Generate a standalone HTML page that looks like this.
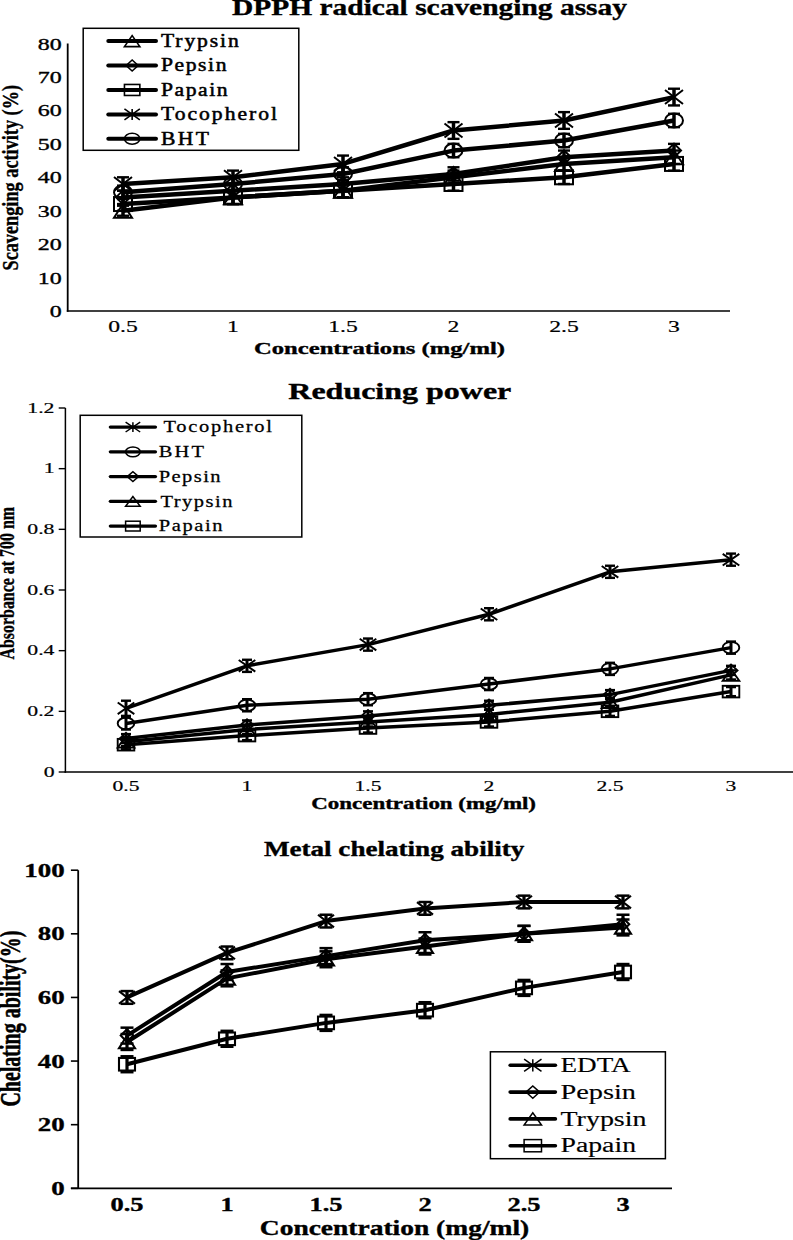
<!DOCTYPE html><html><head><meta charset="utf-8"><style>html,body{margin:0;padding:0;background:#fff;}svg{display:block;}text{fill:#000;stroke:none;font-family:"Liberation Serif",serif;}</style></head><body>
<svg width="793" height="1240" viewBox="0 0 793 1240" stroke="#000">
<rect x="0" y="0" width="793" height="1240" fill="#fff" stroke="none"/>
<g id="c1">
<text x="232" y="14.6" font-size="23" font-weight="bold" textLength="395" lengthAdjust="spacingAndGlyphs"  style="stroke:#000;stroke-width:0.35px">DPPH radical scavenging assay</text>
<line x1="67.7" y1="43.6" x2="67.7" y2="311.8" stroke-width="1.8"/>
<line x1="66.8" y1="311" x2="730" y2="311" stroke-width="1.7"/>
<text transform="translate(61.7,317.0) scale(1.41,1)" font-size="17" font-weight="normal" text-anchor="end"  style="stroke:#000;stroke-width:0.35px">0</text>
<text transform="translate(61.7,283.575) scale(1.41,1)" font-size="17" font-weight="normal" text-anchor="end"  style="stroke:#000;stroke-width:0.35px">10</text>
<text transform="translate(61.7,250.15) scale(1.41,1)" font-size="17" font-weight="normal" text-anchor="end"  style="stroke:#000;stroke-width:0.35px">20</text>
<text transform="translate(61.7,216.72500000000002) scale(1.41,1)" font-size="17" font-weight="normal" text-anchor="end"  style="stroke:#000;stroke-width:0.35px">30</text>
<text transform="translate(61.7,183.3) scale(1.41,1)" font-size="17" font-weight="normal" text-anchor="end"  style="stroke:#000;stroke-width:0.35px">40</text>
<text transform="translate(61.7,149.875) scale(1.41,1)" font-size="17" font-weight="normal" text-anchor="end"  style="stroke:#000;stroke-width:0.35px">50</text>
<text transform="translate(61.7,116.45000000000002) scale(1.41,1)" font-size="17" font-weight="normal" text-anchor="end"  style="stroke:#000;stroke-width:0.35px">60</text>
<text transform="translate(61.7,83.025) scale(1.41,1)" font-size="17" font-weight="normal" text-anchor="end"  style="stroke:#000;stroke-width:0.35px">70</text>
<text transform="translate(61.7,49.60000000000002) scale(1.41,1)" font-size="17" font-weight="normal" text-anchor="end"  style="stroke:#000;stroke-width:0.35px">80</text>
<text transform="translate(123,331.6) scale(1.39,1)" font-size="17" font-weight="normal" text-anchor="middle"  style="stroke:#000;stroke-width:0.2px">0.5</text>
<text transform="translate(233,331.6) scale(1.39,1)" font-size="17" font-weight="normal" text-anchor="middle"  style="stroke:#000;stroke-width:0.2px">1</text>
<text transform="translate(343,331.6) scale(1.39,1)" font-size="17" font-weight="normal" text-anchor="middle"  style="stroke:#000;stroke-width:0.2px">1.5</text>
<text transform="translate(453.5,331.6) scale(1.39,1)" font-size="17" font-weight="normal" text-anchor="middle"  style="stroke:#000;stroke-width:0.2px">2</text>
<text transform="translate(564,331.6) scale(1.39,1)" font-size="17" font-weight="normal" text-anchor="middle"  style="stroke:#000;stroke-width:0.2px">2.5</text>
<text transform="translate(674,331.6) scale(1.39,1)" font-size="17" font-weight="normal" text-anchor="middle"  style="stroke:#000;stroke-width:0.2px">3</text>
<text x="254" y="354" font-size="17" font-weight="bold" textLength="251" lengthAdjust="spacingAndGlyphs"  style="stroke:#000;stroke-width:0.35px">Concentrations (mg/ml)</text>
<text transform="translate(18,270.5) rotate(-90)" font-size="23" font-weight="bold" text-anchor="start" textLength="185.5" lengthAdjust="spacingAndGlyphs"  style="stroke:#000;stroke-width:0.35px">Scavenging activity (%)</text>
<rect x="83.2" y="28.3" width="215.60000000000002" height="122.00000000000001" fill="#fff" stroke-width="1.5"/>
<line x1="108.3" y1="41.1" x2="156" y2="41.1" stroke-width="4" stroke-linecap="round"/>
<polygon points="124.45,46.6 139.85,46.6 132.15,35.6" fill="none" stroke-width="1.6"/>
<text transform="translate(161,47.04) scale(1.2,1)" font-size="18" font-weight="normal" textLength="64.75" lengthAdjust="spacing"  style="stroke:#000;stroke-width:0.5px">Trypsin</text>
<line x1="108.3" y1="65.53" x2="156" y2="65.53" stroke-width="4" stroke-linecap="round"/>
<polygon points="126.144,65.53 132.15,60.03 138.156,65.53 132.15,71.03" fill="none" stroke-width="1.6"/>
<text transform="translate(161,71.47) scale(1.2,1)" font-size="18" font-weight="normal" textLength="54.58" lengthAdjust="spacing"  style="stroke:#000;stroke-width:0.5px">Pepsin</text>
<line x1="108.3" y1="89.96000000000001" x2="156" y2="89.96000000000001" stroke-width="4" stroke-linecap="round"/>
<rect x="124.45" y="84.46000000000001" width="15.4" height="11.0" fill="none" stroke-width="1.6"/>
<text transform="translate(161,95.9) scale(1.2,1)" font-size="18" font-weight="normal" textLength="55.5" lengthAdjust="spacing"  style="stroke:#000;stroke-width:0.5px">Papain</text>
<line x1="108.3" y1="114.38999999999999" x2="156" y2="114.38999999999999" stroke-width="4" stroke-linecap="round"/>
<path d="M124.45,108.88999999999999L139.85,119.88999999999999M124.45,119.88999999999999L139.85,108.88999999999999M132.15,108.88999999999999L132.15,119.88999999999999" fill="none" stroke-width="1.6"/>
<text transform="translate(161,120.32999999999998) scale(1.2,1)" font-size="18" font-weight="normal" textLength="96.67" lengthAdjust="spacing"  style="stroke:#000;stroke-width:0.5px">Tocopherol</text>
<line x1="108.3" y1="138.82" x2="156" y2="138.82" stroke-width="4" stroke-linecap="round"/>
<ellipse cx="132.15" cy="138.82" rx="7.7" ry="5.5" fill="none" stroke-width="1.6"/>
<text transform="translate(161,144.76) scale(1.2,1)" font-size="18" font-weight="normal" textLength="40.0" lengthAdjust="spacing"  style="stroke:#000;stroke-width:0.5px">BHT</text>
<polyline points="123,210.7 233,197.4 343,190.7 453.5,177.3 564,163.9 674,157.2" fill="none" stroke-width="4.5" stroke-linejoin="round"/>
<polygon points="114,217.72500000000002 132,217.72500000000002 123,203.72500000000002" fill="none" stroke-width="2"/>
<polygon points="224,204.35500000000002 242,204.35500000000002 233,190.35500000000002" fill="none" stroke-width="2"/>
<polygon points="334,197.67000000000002 352,197.67000000000002 343,183.67000000000002" fill="none" stroke-width="2"/>
<polygon points="444.5,184.3 462.5,184.3 453.5,170.3" fill="none" stroke-width="2"/>
<polygon points="555,170.93 573,170.93 564,156.93" fill="none" stroke-width="2"/>
<polygon points="665,164.245 683,164.245 674,150.245" fill="none" stroke-width="2"/>
<line x1="123" y1="205.71125" x2="123" y2="215.73875" stroke-width="3.5"/>
<line x1="117" y1="205.71125" x2="129" y2="205.71125" stroke-width="2.4"/>
<line x1="117" y1="215.73875" x2="129" y2="215.73875" stroke-width="2.4"/>
<line x1="233" y1="190.67000000000002" x2="233" y2="204.04000000000002" stroke-width="3.5"/>
<line x1="227" y1="190.67000000000002" x2="239" y2="190.67000000000002" stroke-width="2.4"/>
<line x1="227" y1="204.04000000000002" x2="239" y2="204.04000000000002" stroke-width="2.4"/>
<line x1="343" y1="183.985" x2="343" y2="197.35500000000002" stroke-width="3.5"/>
<line x1="337" y1="183.985" x2="349" y2="183.985" stroke-width="2.4"/>
<line x1="337" y1="197.35500000000002" x2="349" y2="197.35500000000002" stroke-width="2.4"/>
<line x1="453.5" y1="170.615" x2="453.5" y2="183.985" stroke-width="3.5"/>
<line x1="447.5" y1="170.615" x2="459.5" y2="170.615" stroke-width="2.4"/>
<line x1="447.5" y1="183.985" x2="459.5" y2="183.985" stroke-width="2.4"/>
<line x1="564" y1="157.245" x2="564" y2="170.615" stroke-width="3.5"/>
<line x1="558" y1="157.245" x2="570" y2="157.245" stroke-width="2.4"/>
<line x1="558" y1="170.615" x2="570" y2="170.615" stroke-width="2.4"/>
<line x1="674" y1="150.56" x2="674" y2="163.93" stroke-width="3.5"/>
<line x1="668" y1="150.56" x2="680" y2="150.56" stroke-width="2.4"/>
<line x1="668" y1="163.93" x2="680" y2="163.93" stroke-width="2.4"/>
<polyline points="123,197.4 233,190.7 343,184.0 453.5,174.0 564,157.2 674,150.6" fill="none" stroke-width="4.5" stroke-linejoin="round"/>
<polygon points="115.98,197.35500000000002 123,190.35500000000002 130.02,197.35500000000002 123,204.35500000000002" fill="none" stroke-width="2"/>
<polygon points="225.98,190.67000000000002 233,183.67000000000002 240.02,190.67000000000002 233,197.67000000000002" fill="none" stroke-width="2"/>
<polygon points="335.98,183.985 343,176.985 350.02,183.985 343,190.985" fill="none" stroke-width="2"/>
<polygon points="446.48,173.9575 453.5,166.9575 460.52,173.9575 453.5,180.9575" fill="none" stroke-width="2"/>
<polygon points="556.98,157.245 564,150.245 571.02,157.245 564,164.245" fill="none" stroke-width="2"/>
<polygon points="666.98,150.56 674,143.56 681.02,150.56 674,157.56" fill="none" stroke-width="2"/>
<line x1="123" y1="190.67000000000002" x2="123" y2="204.04000000000002" stroke-width="3.5"/>
<line x1="117" y1="190.67000000000002" x2="129" y2="190.67000000000002" stroke-width="2.4"/>
<line x1="117" y1="204.04000000000002" x2="129" y2="204.04000000000002" stroke-width="2.4"/>
<line x1="233" y1="183.985" x2="233" y2="197.35500000000002" stroke-width="3.5"/>
<line x1="227" y1="183.985" x2="239" y2="183.985" stroke-width="2.4"/>
<line x1="227" y1="197.35500000000002" x2="239" y2="197.35500000000002" stroke-width="2.4"/>
<line x1="343" y1="177.3" x2="343" y2="190.67000000000002" stroke-width="3.5"/>
<line x1="337" y1="177.3" x2="349" y2="177.3" stroke-width="2.4"/>
<line x1="337" y1="190.67000000000002" x2="349" y2="190.67000000000002" stroke-width="2.4"/>
<line x1="453.5" y1="167.2725" x2="453.5" y2="180.6425" stroke-width="3.5"/>
<line x1="447.5" y1="167.2725" x2="459.5" y2="167.2725" stroke-width="2.4"/>
<line x1="447.5" y1="180.6425" x2="459.5" y2="180.6425" stroke-width="2.4"/>
<line x1="564" y1="150.56" x2="564" y2="163.93" stroke-width="3.5"/>
<line x1="558" y1="150.56" x2="570" y2="150.56" stroke-width="2.4"/>
<line x1="558" y1="163.93" x2="570" y2="163.93" stroke-width="2.4"/>
<line x1="674" y1="143.875" x2="674" y2="157.245" stroke-width="3.5"/>
<line x1="668" y1="143.875" x2="680" y2="143.875" stroke-width="2.4"/>
<line x1="668" y1="157.245" x2="680" y2="157.245" stroke-width="2.4"/>
<polyline points="123,204.0 233,197.4 343,190.7 453.5,184.0 564,177.3 674,163.9" fill="none" stroke-width="4.5" stroke-linejoin="round"/>
<rect x="114" y="197.04000000000002" width="18" height="14" fill="none" stroke-width="2"/>
<rect x="224" y="190.35500000000002" width="18" height="14" fill="none" stroke-width="2"/>
<rect x="334" y="183.67000000000002" width="18" height="14" fill="none" stroke-width="2"/>
<rect x="444.5" y="176.985" width="18" height="14" fill="none" stroke-width="2"/>
<rect x="555" y="170.3" width="18" height="14" fill="none" stroke-width="2"/>
<rect x="665" y="156.93" width="18" height="14" fill="none" stroke-width="2"/>
<line x1="123" y1="197.35500000000002" x2="123" y2="210.72500000000002" stroke-width="3.5"/>
<line x1="117" y1="197.35500000000002" x2="129" y2="197.35500000000002" stroke-width="2.4"/>
<line x1="117" y1="210.72500000000002" x2="129" y2="210.72500000000002" stroke-width="2.4"/>
<line x1="233" y1="190.67000000000002" x2="233" y2="204.04000000000002" stroke-width="3.5"/>
<line x1="227" y1="190.67000000000002" x2="239" y2="190.67000000000002" stroke-width="2.4"/>
<line x1="227" y1="204.04000000000002" x2="239" y2="204.04000000000002" stroke-width="2.4"/>
<line x1="343" y1="183.985" x2="343" y2="197.35500000000002" stroke-width="3.5"/>
<line x1="337" y1="183.985" x2="349" y2="183.985" stroke-width="2.4"/>
<line x1="337" y1="197.35500000000002" x2="349" y2="197.35500000000002" stroke-width="2.4"/>
<line x1="453.5" y1="177.3" x2="453.5" y2="190.67000000000002" stroke-width="3.5"/>
<line x1="447.5" y1="177.3" x2="459.5" y2="177.3" stroke-width="2.4"/>
<line x1="447.5" y1="190.67000000000002" x2="459.5" y2="190.67000000000002" stroke-width="2.4"/>
<line x1="564" y1="170.615" x2="564" y2="183.985" stroke-width="3.5"/>
<line x1="558" y1="170.615" x2="570" y2="170.615" stroke-width="2.4"/>
<line x1="558" y1="183.985" x2="570" y2="183.985" stroke-width="2.4"/>
<line x1="674" y1="157.245" x2="674" y2="170.615" stroke-width="3.5"/>
<line x1="668" y1="157.245" x2="680" y2="157.245" stroke-width="2.4"/>
<line x1="668" y1="170.615" x2="680" y2="170.615" stroke-width="2.4"/>
<polyline points="123,184.0 233,177.3 343,163.9 453.5,130.5 564,120.5 674,97.1" fill="none" stroke-width="4.5" stroke-linejoin="round"/>
<path d="M114,176.985L132,190.985M114,190.985L132,176.985M123,176.985L123,190.985" fill="none" stroke-width="2"/>
<path d="M224,170.3L242,184.3M224,184.3L242,170.3M233,170.3L233,184.3" fill="none" stroke-width="2"/>
<path d="M334,156.93L352,170.93M334,170.93L352,156.93M343,156.93L343,170.93" fill="none" stroke-width="2"/>
<path d="M444.5,123.50500000000002L462.5,137.50500000000002M444.5,137.50500000000002L462.5,123.50500000000002M453.5,123.50500000000002L453.5,137.50500000000002" fill="none" stroke-width="2"/>
<path d="M555,113.47750000000002L573,127.47750000000002M555,127.47750000000002L573,113.47750000000002M564,113.47750000000002L564,127.47750000000002" fill="none" stroke-width="2"/>
<path d="M665,90.08000000000001L683,104.08000000000001M665,104.08000000000001L683,90.08000000000001M674,90.08000000000001L674,104.08000000000001" fill="none" stroke-width="2"/>
<line x1="123" y1="177.3" x2="123" y2="190.67000000000002" stroke-width="3.5"/>
<line x1="117" y1="177.3" x2="129" y2="177.3" stroke-width="2.4"/>
<line x1="117" y1="190.67000000000002" x2="129" y2="190.67000000000002" stroke-width="2.4"/>
<line x1="233" y1="170.615" x2="233" y2="183.985" stroke-width="3.5"/>
<line x1="227" y1="170.615" x2="239" y2="170.615" stroke-width="2.4"/>
<line x1="227" y1="183.985" x2="239" y2="183.985" stroke-width="2.4"/>
<line x1="343" y1="155.57375000000002" x2="343" y2="172.28625" stroke-width="3.5"/>
<line x1="337" y1="155.57375000000002" x2="349" y2="155.57375000000002" stroke-width="2.4"/>
<line x1="337" y1="172.28625" x2="349" y2="172.28625" stroke-width="2.4"/>
<line x1="453.5" y1="122.14875" x2="453.5" y2="138.86125" stroke-width="3.5"/>
<line x1="447.5" y1="122.14875" x2="459.5" y2="122.14875" stroke-width="2.4"/>
<line x1="447.5" y1="138.86125" x2="459.5" y2="138.86125" stroke-width="2.4"/>
<line x1="564" y1="112.12125" x2="564" y2="128.83375" stroke-width="3.5"/>
<line x1="558" y1="112.12125" x2="570" y2="112.12125" stroke-width="2.4"/>
<line x1="558" y1="128.83375" x2="570" y2="128.83375" stroke-width="2.4"/>
<line x1="674" y1="88.72375000000002" x2="674" y2="105.43625" stroke-width="3.5"/>
<line x1="668" y1="88.72375000000002" x2="680" y2="88.72375000000002" stroke-width="2.4"/>
<line x1="668" y1="105.43625" x2="680" y2="105.43625" stroke-width="2.4"/>
<polyline points="123,192.3 233,184.0 343,174.0 453.5,150.6 564,140.5 674,120.5" fill="none" stroke-width="4.5" stroke-linejoin="round"/>
<ellipse cx="123" cy="192.34125" rx="9" ry="7" fill="none" stroke-width="2"/>
<ellipse cx="233" cy="183.985" rx="9" ry="7" fill="none" stroke-width="2"/>
<ellipse cx="343" cy="173.9575" rx="9" ry="7" fill="none" stroke-width="2"/>
<ellipse cx="453.5" cy="150.56" rx="9" ry="7" fill="none" stroke-width="2"/>
<ellipse cx="564" cy="140.5325" rx="9" ry="7" fill="none" stroke-width="2"/>
<ellipse cx="674" cy="120.47750000000002" rx="9" ry="7" fill="none" stroke-width="2"/>
<line x1="123" y1="185.65625" x2="123" y2="199.02625" stroke-width="3.5"/>
<line x1="117" y1="185.65625" x2="129" y2="185.65625" stroke-width="2.4"/>
<line x1="117" y1="199.02625" x2="129" y2="199.02625" stroke-width="2.4"/>
<line x1="233" y1="177.3" x2="233" y2="190.67000000000002" stroke-width="3.5"/>
<line x1="227" y1="177.3" x2="239" y2="177.3" stroke-width="2.4"/>
<line x1="227" y1="190.67000000000002" x2="239" y2="190.67000000000002" stroke-width="2.4"/>
<line x1="343" y1="167.2725" x2="343" y2="180.6425" stroke-width="3.5"/>
<line x1="337" y1="167.2725" x2="349" y2="167.2725" stroke-width="2.4"/>
<line x1="337" y1="180.6425" x2="349" y2="180.6425" stroke-width="2.4"/>
<line x1="453.5" y1="143.875" x2="453.5" y2="157.245" stroke-width="3.5"/>
<line x1="447.5" y1="143.875" x2="459.5" y2="143.875" stroke-width="2.4"/>
<line x1="447.5" y1="157.245" x2="459.5" y2="157.245" stroke-width="2.4"/>
<line x1="564" y1="133.8475" x2="564" y2="147.2175" stroke-width="3.5"/>
<line x1="558" y1="133.8475" x2="570" y2="133.8475" stroke-width="2.4"/>
<line x1="558" y1="147.2175" x2="570" y2="147.2175" stroke-width="2.4"/>
<line x1="674" y1="113.79250000000002" x2="674" y2="127.16250000000002" stroke-width="3.5"/>
<line x1="668" y1="113.79250000000002" x2="680" y2="113.79250000000002" stroke-width="2.4"/>
<line x1="668" y1="127.16250000000002" x2="680" y2="127.16250000000002" stroke-width="2.4"/>
</g>
<g id="c2">
<text x="288.3" y="398.5" font-size="22.5" font-weight="bold" textLength="223" lengthAdjust="spacingAndGlyphs"  style="stroke:#000;stroke-width:0.35px">Reducing power</text>
<line x1="65.4" y1="408" x2="65.4" y2="772.7" stroke-width="1.5"/>
<line x1="64.6" y1="772" x2="793" y2="772" stroke-width="1.6"/>
<line x1="58.7" y1="772.0" x2="65.4" y2="772.0" stroke-width="1.4"/>
<text transform="translate(54.5,776.8) scale(1.5,1)" font-size="14.5" font-weight="normal" text-anchor="end"  style="stroke:#000;stroke-width:0.2px">0</text>
<line x1="58.7" y1="711.3333333333334" x2="65.4" y2="711.3333333333334" stroke-width="1.4"/>
<text transform="translate(54.5,716.1333333333333) scale(1.5,1)" font-size="14.5" font-weight="normal" text-anchor="end"  style="stroke:#000;stroke-width:0.2px">0.2</text>
<line x1="58.7" y1="650.6666666666666" x2="65.4" y2="650.6666666666666" stroke-width="1.4"/>
<text transform="translate(54.5,655.4666666666666) scale(1.5,1)" font-size="14.5" font-weight="normal" text-anchor="end"  style="stroke:#000;stroke-width:0.2px">0.4</text>
<line x1="58.7" y1="590.0" x2="65.4" y2="590.0" stroke-width="1.4"/>
<text transform="translate(54.5,594.8) scale(1.5,1)" font-size="14.5" font-weight="normal" text-anchor="end"  style="stroke:#000;stroke-width:0.2px">0.6</text>
<line x1="58.7" y1="529.3333333333333" x2="65.4" y2="529.3333333333333" stroke-width="1.4"/>
<text transform="translate(54.5,534.1333333333332) scale(1.5,1)" font-size="14.5" font-weight="normal" text-anchor="end"  style="stroke:#000;stroke-width:0.2px">0.8</text>
<line x1="58.7" y1="468.66666666666663" x2="65.4" y2="468.66666666666663" stroke-width="1.4"/>
<text transform="translate(54.5,473.46666666666664) scale(1.5,1)" font-size="14.5" font-weight="normal" text-anchor="end"  style="stroke:#000;stroke-width:0.2px">1</text>
<line x1="58.7" y1="407.9999999999999" x2="65.4" y2="407.9999999999999" stroke-width="1.4"/>
<text transform="translate(54.5,412.7999999999999) scale(1.5,1)" font-size="14.5" font-weight="normal" text-anchor="end"  style="stroke:#000;stroke-width:0.2px">1.2</text>
<text transform="translate(126,790.8) scale(1.46,1)" font-size="14.8" font-weight="normal" text-anchor="middle"  style="stroke:#000;stroke-width:0.2px">0.5</text>
<text transform="translate(247,790.8) scale(1.46,1)" font-size="14.8" font-weight="normal" text-anchor="middle"  style="stroke:#000;stroke-width:0.2px">1</text>
<text transform="translate(368,790.8) scale(1.46,1)" font-size="14.8" font-weight="normal" text-anchor="middle"  style="stroke:#000;stroke-width:0.2px">1.5</text>
<text transform="translate(489,790.8) scale(1.46,1)" font-size="14.8" font-weight="normal" text-anchor="middle"  style="stroke:#000;stroke-width:0.2px">2</text>
<text transform="translate(610,790.8) scale(1.46,1)" font-size="14.8" font-weight="normal" text-anchor="middle"  style="stroke:#000;stroke-width:0.2px">2.5</text>
<text transform="translate(731,790.8) scale(1.46,1)" font-size="14.8" font-weight="normal" text-anchor="middle"  style="stroke:#000;stroke-width:0.2px">3</text>
<text x="311.3" y="808.7" font-size="16" font-weight="bold" textLength="224.7" lengthAdjust="spacingAndGlyphs"  style="stroke:#000;stroke-width:0.35px">Concentration (mg/ml)</text>
<text transform="translate(14.4,659.5) rotate(-90)" font-size="20" font-weight="bold" text-anchor="start" textLength="152.5" lengthAdjust="spacingAndGlyphs"  style="stroke:#000;stroke-width:0.35px">Absorbance at 700 nm</text>
<rect x="80.2" y="415.3" width="221.60000000000002" height="121.69999999999999" fill="#fff" stroke-width="1.5"/>
<line x1="110.4" y1="427.1" x2="155.4" y2="427.1" stroke-width="3.4" stroke-linecap="round"/>
<path d="M125.60000000000001,422.20000000000005L140.20000000000002,432.0M125.60000000000001,432.0L140.20000000000002,422.20000000000005M132.9,422.20000000000005L132.9,432.0" fill="none" stroke-width="1.5"/>
<text transform="translate(163.5,432.38) scale(1.28,1)" font-size="16" font-weight="normal" textLength="84.77" lengthAdjust="spacing"  style="stroke:#000;stroke-width:0.25px">Tocopherol</text>
<line x1="110.4" y1="451.85" x2="155.4" y2="451.85" stroke-width="3.4" stroke-linecap="round"/>
<ellipse cx="132.9" cy="451.85" rx="7.3" ry="4.9" fill="none" stroke-width="1.5"/>
<text transform="translate(158.8,457.13) scale(1.28,1)" font-size="16" font-weight="normal" textLength="35.31" lengthAdjust="spacing"  style="stroke:#000;stroke-width:0.25px">BHT</text>
<line x1="110.4" y1="476.6" x2="155.4" y2="476.6" stroke-width="3.4" stroke-linecap="round"/>
<polygon points="127.206,476.6 132.9,471.70000000000005 138.594,476.6 132.9,481.5" fill="none" stroke-width="1.5"/>
<text transform="translate(158.8,481.88) scale(1.28,1)" font-size="16" font-weight="normal" textLength="48.2" lengthAdjust="spacing"  style="stroke:#000;stroke-width:0.25px">Pepsin</text>
<line x1="110.4" y1="501.35" x2="155.4" y2="501.35" stroke-width="3.4" stroke-linecap="round"/>
<polygon points="125.60000000000001,506.25 140.20000000000002,506.25 132.9,496.45000000000005" fill="none" stroke-width="1.5"/>
<text transform="translate(160.4,506.63) scale(1.28,1)" font-size="16" font-weight="normal" textLength="56.25" lengthAdjust="spacing"  style="stroke:#000;stroke-width:0.25px">Trypsin</text>
<line x1="110.4" y1="526.1" x2="155.4" y2="526.1" stroke-width="3.4" stroke-linecap="round"/>
<rect x="125.60000000000001" y="521.2" width="14.6" height="9.8" fill="none" stroke-width="1.5"/>
<text transform="translate(158.8,531.38) scale(1.28,1)" font-size="16" font-weight="normal" textLength="49.69" lengthAdjust="spacing"  style="stroke:#000;stroke-width:0.25px">Papain</text>
<polyline points="126,738.6 247,725.0 368,715.9 489,705.3 610,694.6 731,670.4" fill="none" stroke-width="3.5" stroke-linejoin="round"/>
<polygon points="119.526,738.6333333333333 126,732.8333333333334 132.474,738.6333333333333 126,744.4333333333333" fill="none" stroke-width="1.9"/>
<polygon points="240.526,724.9833333333333 247,719.1833333333334 253.474,724.9833333333333 247,730.7833333333333" fill="none" stroke-width="1.9"/>
<polygon points="361.526,715.8833333333333 368,710.0833333333334 374.474,715.8833333333333 368,721.6833333333333" fill="none" stroke-width="1.9"/>
<polygon points="482.526,705.2666666666667 489,699.4666666666667 495.474,705.2666666666667 489,711.0666666666666" fill="none" stroke-width="1.9"/>
<polygon points="603.526,694.65 610,688.85 616.474,694.65 610,700.4499999999999" fill="none" stroke-width="1.9"/>
<polygon points="724.526,670.3833333333333 731,664.5833333333334 737.474,670.3833333333333 731,676.1833333333333" fill="none" stroke-width="1.9"/>
<line x1="126" y1="734.0833333333334" x2="126" y2="743.1833333333333" stroke-width="3"/>
<line x1="121" y1="734.0833333333334" x2="131" y2="734.0833333333334" stroke-width="2.4"/>
<line x1="121" y1="743.1833333333333" x2="131" y2="743.1833333333333" stroke-width="2.4"/>
<line x1="247" y1="720.4333333333333" x2="247" y2="729.5333333333333" stroke-width="3"/>
<line x1="242" y1="720.4333333333333" x2="252" y2="720.4333333333333" stroke-width="2.4"/>
<line x1="242" y1="729.5333333333333" x2="252" y2="729.5333333333333" stroke-width="2.4"/>
<line x1="368" y1="711.3333333333334" x2="368" y2="720.4333333333333" stroke-width="3"/>
<line x1="363" y1="711.3333333333334" x2="373" y2="711.3333333333334" stroke-width="2.4"/>
<line x1="363" y1="720.4333333333333" x2="373" y2="720.4333333333333" stroke-width="2.4"/>
<line x1="489" y1="700.7166666666667" x2="489" y2="709.8166666666666" stroke-width="3"/>
<line x1="484" y1="700.7166666666667" x2="494" y2="700.7166666666667" stroke-width="2.4"/>
<line x1="484" y1="709.8166666666666" x2="494" y2="709.8166666666666" stroke-width="2.4"/>
<line x1="610" y1="690.1" x2="610" y2="699.2" stroke-width="3"/>
<line x1="605" y1="690.1" x2="615" y2="690.1" stroke-width="2.4"/>
<line x1="605" y1="699.2" x2="615" y2="699.2" stroke-width="2.4"/>
<line x1="731" y1="665.8333333333333" x2="731" y2="674.9333333333333" stroke-width="3"/>
<line x1="726" y1="665.8333333333333" x2="736" y2="665.8333333333333" stroke-width="2.4"/>
<line x1="726" y1="674.9333333333333" x2="736" y2="674.9333333333333" stroke-width="2.4"/>
<polyline points="126,741.7 247,729.5 368,722.0 489,714.4 610,702.2 731,674.9" fill="none" stroke-width="3.5" stroke-linejoin="round"/>
<polygon points="117.7,747.4666666666666 134.3,747.4666666666666 126,735.8666666666667" fill="none" stroke-width="1.9"/>
<polygon points="238.7,735.3333333333333 255.3,735.3333333333333 247,723.7333333333333" fill="none" stroke-width="1.9"/>
<polygon points="359.7,727.75 376.3,727.75 368,716.1500000000001" fill="none" stroke-width="1.9"/>
<polygon points="480.7,720.1666666666666 497.3,720.1666666666666 489,708.5666666666667" fill="none" stroke-width="1.9"/>
<polygon points="601.7,708.0333333333333 618.3,708.0333333333333 610,696.4333333333334" fill="none" stroke-width="1.9"/>
<polygon points="722.7,680.7333333333332 739.3,680.7333333333332 731,669.1333333333333" fill="none" stroke-width="1.9"/>
<line x1="126" y1="737.1166666666667" x2="126" y2="746.2166666666667" stroke-width="3"/>
<line x1="121" y1="737.1166666666667" x2="131" y2="737.1166666666667" stroke-width="2.4"/>
<line x1="121" y1="746.2166666666667" x2="131" y2="746.2166666666667" stroke-width="2.4"/>
<line x1="247" y1="724.9833333333333" x2="247" y2="734.0833333333334" stroke-width="3"/>
<line x1="242" y1="724.9833333333333" x2="252" y2="724.9833333333333" stroke-width="2.4"/>
<line x1="242" y1="734.0833333333334" x2="252" y2="734.0833333333334" stroke-width="2.4"/>
<line x1="368" y1="717.4" x2="368" y2="726.5" stroke-width="3"/>
<line x1="363" y1="717.4" x2="373" y2="717.4" stroke-width="2.4"/>
<line x1="363" y1="726.5" x2="373" y2="726.5" stroke-width="2.4"/>
<line x1="489" y1="709.8166666666666" x2="489" y2="718.9166666666666" stroke-width="3"/>
<line x1="484" y1="709.8166666666666" x2="494" y2="709.8166666666666" stroke-width="2.4"/>
<line x1="484" y1="718.9166666666666" x2="494" y2="718.9166666666666" stroke-width="2.4"/>
<line x1="610" y1="697.6833333333333" x2="610" y2="706.7833333333333" stroke-width="3"/>
<line x1="605" y1="697.6833333333333" x2="615" y2="697.6833333333333" stroke-width="2.4"/>
<line x1="605" y1="706.7833333333333" x2="615" y2="706.7833333333333" stroke-width="2.4"/>
<line x1="731" y1="670.3833333333333" x2="731" y2="679.4833333333333" stroke-width="3"/>
<line x1="726" y1="670.3833333333333" x2="736" y2="670.3833333333333" stroke-width="2.4"/>
<line x1="726" y1="679.4833333333333" x2="736" y2="679.4833333333333" stroke-width="2.4"/>
<polyline points="126,744.7 247,735.6 368,728.0 489,722.0 610,711.3 731,691.6" fill="none" stroke-width="3.5" stroke-linejoin="round"/>
<rect x="117.7" y="738.9000000000001" width="16.6" height="11.6" fill="none" stroke-width="1.9"/>
<rect x="238.7" y="729.8000000000001" width="16.6" height="11.6" fill="none" stroke-width="1.9"/>
<rect x="359.7" y="722.2166666666667" width="16.6" height="11.6" fill="none" stroke-width="1.9"/>
<rect x="480.7" y="716.1500000000001" width="16.6" height="11.6" fill="none" stroke-width="1.9"/>
<rect x="601.7" y="705.5333333333334" width="16.6" height="11.6" fill="none" stroke-width="1.9"/>
<rect x="722.7" y="685.8166666666667" width="16.6" height="11.6" fill="none" stroke-width="1.9"/>
<line x1="126" y1="740.15" x2="126" y2="749.25" stroke-width="3"/>
<line x1="121" y1="740.15" x2="131" y2="740.15" stroke-width="2.4"/>
<line x1="121" y1="749.25" x2="131" y2="749.25" stroke-width="2.4"/>
<line x1="247" y1="731.05" x2="247" y2="740.15" stroke-width="3"/>
<line x1="242" y1="731.05" x2="252" y2="731.05" stroke-width="2.4"/>
<line x1="242" y1="740.15" x2="252" y2="740.15" stroke-width="2.4"/>
<line x1="368" y1="723.4666666666667" x2="368" y2="732.5666666666666" stroke-width="3"/>
<line x1="363" y1="723.4666666666667" x2="373" y2="723.4666666666667" stroke-width="2.4"/>
<line x1="363" y1="732.5666666666666" x2="373" y2="732.5666666666666" stroke-width="2.4"/>
<line x1="489" y1="717.4" x2="489" y2="726.5" stroke-width="3"/>
<line x1="484" y1="717.4" x2="494" y2="717.4" stroke-width="2.4"/>
<line x1="484" y1="726.5" x2="494" y2="726.5" stroke-width="2.4"/>
<line x1="610" y1="706.7833333333333" x2="610" y2="715.8833333333333" stroke-width="3"/>
<line x1="605" y1="706.7833333333333" x2="615" y2="706.7833333333333" stroke-width="2.4"/>
<line x1="605" y1="715.8833333333333" x2="615" y2="715.8833333333333" stroke-width="2.4"/>
<line x1="731" y1="687.0666666666666" x2="731" y2="696.1666666666666" stroke-width="3"/>
<line x1="726" y1="687.0666666666666" x2="736" y2="687.0666666666666" stroke-width="2.4"/>
<line x1="726" y1="696.1666666666666" x2="736" y2="696.1666666666666" stroke-width="2.4"/>
<polyline points="126,708.3 247,665.8 368,644.6 489,614.3 610,571.8 731,559.7" fill="none" stroke-width="3.5" stroke-linejoin="round"/>
<path d="M117.7,702.5L134.3,714.0999999999999M117.7,714.0999999999999L134.3,702.5M126,702.5L126,714.0999999999999" fill="none" stroke-width="1.9"/>
<path d="M238.7,660.0333333333334L255.3,671.6333333333333M238.7,671.6333333333333L255.3,660.0333333333334M247,660.0333333333334L247,671.6333333333333" fill="none" stroke-width="1.9"/>
<path d="M359.7,638.8000000000001L376.3,650.4M359.7,650.4L376.3,638.8000000000001M368,638.8000000000001L368,650.4" fill="none" stroke-width="1.9"/>
<path d="M480.7,608.4666666666667L497.3,620.0666666666666M480.7,620.0666666666666L497.3,608.4666666666667M489,608.4666666666667L489,620.0666666666666" fill="none" stroke-width="1.9"/>
<path d="M601.7,566.0L618.3,577.5999999999999M601.7,577.5999999999999L618.3,566.0M610,566.0L610,577.5999999999999" fill="none" stroke-width="1.9"/>
<path d="M722.7,553.8666666666667L739.3,565.4666666666666M722.7,565.4666666666666L739.3,553.8666666666667M731,553.8666666666667L731,565.4666666666666" fill="none" stroke-width="1.9"/>
<line x1="126" y1="700.7166666666667" x2="126" y2="715.8833333333333" stroke-width="3"/>
<line x1="121" y1="700.7166666666667" x2="131" y2="700.7166666666667" stroke-width="2.4"/>
<line x1="121" y1="715.8833333333333" x2="131" y2="715.8833333333333" stroke-width="2.4"/>
<line x1="247" y1="659.7666666666667" x2="247" y2="671.9" stroke-width="3"/>
<line x1="242" y1="659.7666666666667" x2="252" y2="659.7666666666667" stroke-width="2.4"/>
<line x1="242" y1="671.9" x2="252" y2="671.9" stroke-width="2.4"/>
<line x1="368" y1="638.5333333333333" x2="368" y2="650.6666666666666" stroke-width="3"/>
<line x1="363" y1="638.5333333333333" x2="373" y2="638.5333333333333" stroke-width="2.4"/>
<line x1="363" y1="650.6666666666666" x2="373" y2="650.6666666666666" stroke-width="2.4"/>
<line x1="489" y1="608.1999999999999" x2="489" y2="620.3333333333333" stroke-width="3"/>
<line x1="484" y1="608.1999999999999" x2="494" y2="608.1999999999999" stroke-width="2.4"/>
<line x1="484" y1="620.3333333333333" x2="494" y2="620.3333333333333" stroke-width="2.4"/>
<line x1="610" y1="565.7333333333333" x2="610" y2="577.8666666666667" stroke-width="3"/>
<line x1="605" y1="565.7333333333333" x2="615" y2="565.7333333333333" stroke-width="2.4"/>
<line x1="605" y1="577.8666666666667" x2="615" y2="577.8666666666667" stroke-width="2.4"/>
<line x1="731" y1="553.6" x2="731" y2="565.7333333333333" stroke-width="3"/>
<line x1="726" y1="553.6" x2="736" y2="553.6" stroke-width="2.4"/>
<line x1="726" y1="565.7333333333333" x2="736" y2="565.7333333333333" stroke-width="2.4"/>
<polyline points="126,723.5 247,705.3 368,699.2 489,684.0 610,668.9 731,647.6" fill="none" stroke-width="3.5" stroke-linejoin="round"/>
<ellipse cx="126" cy="723.4666666666667" rx="8.3" ry="5.8" fill="none" stroke-width="1.9"/>
<ellipse cx="247" cy="705.2666666666667" rx="8.3" ry="5.8" fill="none" stroke-width="1.9"/>
<ellipse cx="368" cy="699.2" rx="8.3" ry="5.8" fill="none" stroke-width="1.9"/>
<ellipse cx="489" cy="684.0333333333333" rx="8.3" ry="5.8" fill="none" stroke-width="1.9"/>
<ellipse cx="610" cy="668.8666666666667" rx="8.3" ry="5.8" fill="none" stroke-width="1.9"/>
<ellipse cx="731" cy="647.6333333333333" rx="8.3" ry="5.8" fill="none" stroke-width="1.9"/>
<line x1="126" y1="717.4" x2="126" y2="729.5333333333333" stroke-width="3"/>
<line x1="121" y1="717.4" x2="131" y2="717.4" stroke-width="2.4"/>
<line x1="121" y1="729.5333333333333" x2="131" y2="729.5333333333333" stroke-width="2.4"/>
<line x1="247" y1="699.2" x2="247" y2="711.3333333333334" stroke-width="3"/>
<line x1="242" y1="699.2" x2="252" y2="699.2" stroke-width="2.4"/>
<line x1="242" y1="711.3333333333334" x2="252" y2="711.3333333333334" stroke-width="2.4"/>
<line x1="368" y1="693.1333333333333" x2="368" y2="705.2666666666667" stroke-width="3"/>
<line x1="363" y1="693.1333333333333" x2="373" y2="693.1333333333333" stroke-width="2.4"/>
<line x1="363" y1="705.2666666666667" x2="373" y2="705.2666666666667" stroke-width="2.4"/>
<line x1="489" y1="677.9666666666667" x2="489" y2="690.1" stroke-width="3"/>
<line x1="484" y1="677.9666666666667" x2="494" y2="677.9666666666667" stroke-width="2.4"/>
<line x1="484" y1="690.1" x2="494" y2="690.1" stroke-width="2.4"/>
<line x1="610" y1="662.8" x2="610" y2="674.9333333333333" stroke-width="3"/>
<line x1="605" y1="662.8" x2="615" y2="662.8" stroke-width="2.4"/>
<line x1="605" y1="674.9333333333333" x2="615" y2="674.9333333333333" stroke-width="2.4"/>
<line x1="731" y1="641.5666666666666" x2="731" y2="653.7" stroke-width="3"/>
<line x1="726" y1="641.5666666666666" x2="736" y2="641.5666666666666" stroke-width="2.4"/>
<line x1="726" y1="653.7" x2="736" y2="653.7" stroke-width="2.4"/>
</g>
<g id="c3">
<text x="263.9" y="856.2" font-size="20.4" font-weight="bold" textLength="260.4" lengthAdjust="spacingAndGlyphs"  style="stroke:#000;stroke-width:0.35px">Metal chelating ability</text>
<line x1="78.2" y1="870.2" x2="78.2" y2="1189.1" stroke-width="1.8"/>
<line x1="70.9" y1="1188.3" x2="672" y2="1188.3" stroke-width="1.8"/>
<line x1="70.9" y1="1188.3" x2="78.2" y2="1188.3" stroke-width="1.6"/>
<text transform="translate(64.6,1194.8999999999999) scale(1.38,1)" font-size="19.5" font-weight="bold" text-anchor="end"  style="stroke:#000;stroke-width:0.35px">0</text>
<line x1="70.9" y1="1124.68" x2="78.2" y2="1124.68" stroke-width="1.6"/>
<text transform="translate(64.6,1131.28) scale(1.38,1)" font-size="19.5" font-weight="bold" text-anchor="end"  style="stroke:#000;stroke-width:0.35px">20</text>
<line x1="70.9" y1="1061.06" x2="78.2" y2="1061.06" stroke-width="1.6"/>
<text transform="translate(64.6,1067.6599999999999) scale(1.38,1)" font-size="19.5" font-weight="bold" text-anchor="end"  style="stroke:#000;stroke-width:0.35px">40</text>
<line x1="70.9" y1="997.44" x2="78.2" y2="997.44" stroke-width="1.6"/>
<text transform="translate(64.6,1004.0400000000001) scale(1.38,1)" font-size="19.5" font-weight="bold" text-anchor="end"  style="stroke:#000;stroke-width:0.35px">60</text>
<line x1="70.9" y1="933.82" x2="78.2" y2="933.82" stroke-width="1.6"/>
<text transform="translate(64.6,940.4200000000001) scale(1.38,1)" font-size="19.5" font-weight="bold" text-anchor="end"  style="stroke:#000;stroke-width:0.35px">80</text>
<line x1="70.9" y1="870.2" x2="78.2" y2="870.2" stroke-width="1.6"/>
<text transform="translate(64.6,876.8000000000001) scale(1.38,1)" font-size="19.5" font-weight="bold" text-anchor="end"  style="stroke:#000;stroke-width:0.35px">100</text>
<text transform="translate(127,1211.4) scale(1.42,1)" font-size="18.6" font-weight="bold" text-anchor="middle"  style="stroke:#000;stroke-width:0.35px">0.5</text>
<text transform="translate(227,1211.4) scale(1.42,1)" font-size="18.6" font-weight="bold" text-anchor="middle"  style="stroke:#000;stroke-width:0.35px">1</text>
<text transform="translate(326,1211.4) scale(1.42,1)" font-size="18.6" font-weight="bold" text-anchor="middle"  style="stroke:#000;stroke-width:0.35px">1.5</text>
<text transform="translate(425,1211.4) scale(1.42,1)" font-size="18.6" font-weight="bold" text-anchor="middle"  style="stroke:#000;stroke-width:0.35px">2</text>
<text transform="translate(524,1211.4) scale(1.42,1)" font-size="18.6" font-weight="bold" text-anchor="middle"  style="stroke:#000;stroke-width:0.35px">2.5</text>
<text transform="translate(623,1211.4) scale(1.42,1)" font-size="18.6" font-weight="bold" text-anchor="middle"  style="stroke:#000;stroke-width:0.35px">3</text>
<text x="259.8" y="1234.8" font-size="20" font-weight="bold" textLength="269.4" lengthAdjust="spacingAndGlyphs"  style="stroke:#000;stroke-width:0.35px">Concentration (mg/ml)</text>
<text transform="translate(19.6,1106.6) rotate(-90)" font-size="29" font-weight="bold" text-anchor="start" textLength="176" lengthAdjust="spacingAndGlyphs"  style="stroke:#000;stroke-width:0.6px">Chelating ability(%)</text>
<rect x="490.4" y="1051.8" width="175.0" height="106.90000000000009" fill="#fff" stroke-width="1.5"/>
<line x1="510.2" y1="1065.3" x2="555.4" y2="1065.3" stroke-width="3.6" stroke-linecap="round"/>
<path d="M524.0999999999999,1059.2L541.5,1071.3999999999999M524.0999999999999,1071.3999999999999L541.5,1059.2M532.8,1059.2L532.8,1071.3999999999999" fill="none" stroke-width="1.5"/>
<text x="560.5" y="1071.8999999999999" font-size="20" font-weight="normal" textLength="70.1" lengthAdjust="spacingAndGlyphs"  style="stroke:#000;stroke-width:0.15px">EDTA</text>
<line x1="510.2" y1="1092.1" x2="555.4" y2="1092.1" stroke-width="3.6" stroke-linecap="round"/>
<polygon points="526.014,1092.1 532.8,1086.0 539.5859999999999,1092.1 532.8,1098.1999999999998" fill="none" stroke-width="1.5"/>
<text x="560.5" y="1098.6999999999998" font-size="20" font-weight="normal" textLength="75.5" lengthAdjust="spacingAndGlyphs"  style="stroke:#000;stroke-width:0.15px">Pepsin</text>
<line x1="510.2" y1="1118.8999999999999" x2="555.4" y2="1118.8999999999999" stroke-width="3.6" stroke-linecap="round"/>
<polygon points="524.0999999999999,1124.9999999999998 541.5,1124.9999999999998 532.8,1112.8" fill="none" stroke-width="1.5"/>
<text x="560.5" y="1125.4999999999998" font-size="20" font-weight="normal" textLength="86.0" lengthAdjust="spacingAndGlyphs"  style="stroke:#000;stroke-width:0.15px">Trypsin</text>
<line x1="510.2" y1="1145.7" x2="555.4" y2="1145.7" stroke-width="3.6" stroke-linecap="round"/>
<rect x="524.0999999999999" y="1139.6000000000001" width="17.4" height="12.2" fill="none" stroke-width="1.5"/>
<text x="560.5" y="1152.3" font-size="20" font-weight="normal" textLength="75.5" lengthAdjust="spacingAndGlyphs"  style="stroke:#000;stroke-width:0.15px">Papain</text>
<polyline points="127,997.4 227,952.9 326,921.1 425,908.4 524,902.0 623,902.0" fill="none" stroke-width="4" stroke-linejoin="round"/>
<path d="M119,991.1400000000001L135,1003.74M119,1003.74L135,991.1400000000001M127,991.1400000000001L127,1003.74" fill="none" stroke-width="2.1"/>
<path d="M219,946.606L235,959.2059999999999M219,959.2059999999999L235,946.606M227,946.606L227,959.2059999999999" fill="none" stroke-width="2.1"/>
<path d="M318,914.796L334,927.396M318,927.396L334,914.796M326,914.796L326,927.396" fill="none" stroke-width="2.1"/>
<path d="M417,902.0720000000001L433,914.672M417,914.672L433,902.0720000000001M425,902.0720000000001L425,914.672" fill="none" stroke-width="2.1"/>
<path d="M516,895.71L532,908.31M516,908.31L532,895.71M524,895.71L524,908.31" fill="none" stroke-width="2.1"/>
<path d="M615,895.71L631,908.31M615,908.31L631,895.71M623,895.71L623,908.31" fill="none" stroke-width="2.1"/>
<line x1="127" y1="991.078" x2="127" y2="1003.802" stroke-width="3.2"/>
<line x1="120.5" y1="991.078" x2="133.5" y2="991.078" stroke-width="2.5"/>
<line x1="120.5" y1="1003.802" x2="133.5" y2="1003.802" stroke-width="2.5"/>
<line x1="227" y1="946.544" x2="227" y2="959.268" stroke-width="3.2"/>
<line x1="220.5" y1="946.544" x2="233.5" y2="946.544" stroke-width="2.5"/>
<line x1="220.5" y1="959.268" x2="233.5" y2="959.268" stroke-width="2.5"/>
<line x1="326" y1="914.734" x2="326" y2="927.4580000000001" stroke-width="3.2"/>
<line x1="319.5" y1="914.734" x2="332.5" y2="914.734" stroke-width="2.5"/>
<line x1="319.5" y1="927.4580000000001" x2="332.5" y2="927.4580000000001" stroke-width="2.5"/>
<line x1="425" y1="902.01" x2="425" y2="914.734" stroke-width="3.2"/>
<line x1="418.5" y1="902.01" x2="431.5" y2="902.01" stroke-width="2.5"/>
<line x1="418.5" y1="914.734" x2="431.5" y2="914.734" stroke-width="2.5"/>
<line x1="524" y1="895.648" x2="524" y2="908.3720000000001" stroke-width="3.2"/>
<line x1="517.5" y1="895.648" x2="530.5" y2="895.648" stroke-width="2.5"/>
<line x1="517.5" y1="908.3720000000001" x2="530.5" y2="908.3720000000001" stroke-width="2.5"/>
<line x1="623" y1="895.648" x2="623" y2="908.3720000000001" stroke-width="3.2"/>
<line x1="616.5" y1="895.648" x2="629.5" y2="895.648" stroke-width="2.5"/>
<line x1="616.5" y1="908.3720000000001" x2="629.5" y2="908.3720000000001" stroke-width="2.5"/>
<polyline points="127,1035.6 227,972.0 326,956.1 425,940.2 524,933.8 623,924.3" fill="none" stroke-width="4" stroke-linejoin="round"/>
<polygon points="120.76,1035.612 127,1029.3120000000001 133.24,1035.612 127,1041.912" fill="none" stroke-width="2.1"/>
<polygon points="220.76,971.992 227,965.692 233.24,971.992 227,978.2919999999999" fill="none" stroke-width="2.1"/>
<polygon points="319.76,956.087 326,949.787 332.24,956.087 326,962.387" fill="none" stroke-width="2.1"/>
<polygon points="418.76,940.182 425,933.8820000000001 431.24,940.182 425,946.482" fill="none" stroke-width="2.1"/>
<polygon points="517.76,933.82 524,927.5200000000001 530.24,933.82 524,940.12" fill="none" stroke-width="2.1"/>
<polygon points="616.76,924.277 623,917.9770000000001 629.24,924.277 623,930.577" fill="none" stroke-width="2.1"/>
<line x1="127" y1="1027.6595" x2="127" y2="1043.5645" stroke-width="3.2"/>
<line x1="120.5" y1="1027.6595" x2="133.5" y2="1027.6595" stroke-width="2.5"/>
<line x1="120.5" y1="1043.5645" x2="133.5" y2="1043.5645" stroke-width="2.5"/>
<line x1="227" y1="964.0395" x2="227" y2="979.9445000000001" stroke-width="3.2"/>
<line x1="220.5" y1="964.0395" x2="233.5" y2="964.0395" stroke-width="2.5"/>
<line x1="220.5" y1="979.9445000000001" x2="233.5" y2="979.9445000000001" stroke-width="2.5"/>
<line x1="326" y1="948.1345" x2="326" y2="964.0395" stroke-width="3.2"/>
<line x1="319.5" y1="948.1345" x2="332.5" y2="948.1345" stroke-width="2.5"/>
<line x1="319.5" y1="964.0395" x2="332.5" y2="964.0395" stroke-width="2.5"/>
<line x1="425" y1="932.2295" x2="425" y2="948.1345" stroke-width="3.2"/>
<line x1="418.5" y1="932.2295" x2="431.5" y2="932.2295" stroke-width="2.5"/>
<line x1="418.5" y1="948.1345" x2="431.5" y2="948.1345" stroke-width="2.5"/>
<line x1="524" y1="925.8675000000001" x2="524" y2="941.7725" stroke-width="3.2"/>
<line x1="517.5" y1="925.8675000000001" x2="530.5" y2="925.8675000000001" stroke-width="2.5"/>
<line x1="517.5" y1="941.7725" x2="530.5" y2="941.7725" stroke-width="2.5"/>
<line x1="623" y1="914.734" x2="623" y2="933.82" stroke-width="3.2"/>
<line x1="616.5" y1="914.734" x2="629.5" y2="914.734" stroke-width="2.5"/>
<line x1="616.5" y1="933.82" x2="629.5" y2="933.82" stroke-width="2.5"/>
<polyline points="127,1042.0 227,978.4 326,959.3 425,946.5 524,933.8 623,927.5" fill="none" stroke-width="4" stroke-linejoin="round"/>
<polygon points="119,1048.274 135,1048.274 127,1035.674" fill="none" stroke-width="2.1"/>
<polygon points="219,984.654 235,984.654 227,972.0540000000001" fill="none" stroke-width="2.1"/>
<polygon points="318,965.568 334,965.568 326,952.9680000000001" fill="none" stroke-width="2.1"/>
<polygon points="417,952.8439999999999 433,952.8439999999999 425,940.244" fill="none" stroke-width="2.1"/>
<polygon points="516,940.12 532,940.12 524,927.5200000000001" fill="none" stroke-width="2.1"/>
<polygon points="615,933.758 631,933.758 623,921.1580000000001" fill="none" stroke-width="2.1"/>
<line x1="127" y1="1034.0215" x2="127" y2="1049.9265" stroke-width="3.2"/>
<line x1="120.5" y1="1034.0215" x2="133.5" y2="1034.0215" stroke-width="2.5"/>
<line x1="120.5" y1="1049.9265" x2="133.5" y2="1049.9265" stroke-width="2.5"/>
<line x1="227" y1="970.4014999999999" x2="227" y2="986.3065" stroke-width="3.2"/>
<line x1="220.5" y1="970.4014999999999" x2="233.5" y2="970.4014999999999" stroke-width="2.5"/>
<line x1="220.5" y1="986.3065" x2="233.5" y2="986.3065" stroke-width="2.5"/>
<line x1="326" y1="951.3155" x2="326" y2="967.2205" stroke-width="3.2"/>
<line x1="319.5" y1="951.3155" x2="332.5" y2="951.3155" stroke-width="2.5"/>
<line x1="319.5" y1="967.2205" x2="332.5" y2="967.2205" stroke-width="2.5"/>
<line x1="425" y1="938.5915" x2="425" y2="954.4965" stroke-width="3.2"/>
<line x1="418.5" y1="938.5915" x2="431.5" y2="938.5915" stroke-width="2.5"/>
<line x1="418.5" y1="954.4965" x2="431.5" y2="954.4965" stroke-width="2.5"/>
<line x1="524" y1="925.8675000000001" x2="524" y2="941.7725" stroke-width="3.2"/>
<line x1="517.5" y1="925.8675000000001" x2="530.5" y2="925.8675000000001" stroke-width="2.5"/>
<line x1="517.5" y1="941.7725" x2="530.5" y2="941.7725" stroke-width="2.5"/>
<line x1="623" y1="919.5055" x2="623" y2="935.4105" stroke-width="3.2"/>
<line x1="616.5" y1="919.5055" x2="629.5" y2="919.5055" stroke-width="2.5"/>
<line x1="616.5" y1="935.4105" x2="629.5" y2="935.4105" stroke-width="2.5"/>
<polyline points="127,1064.2 227,1038.8 326,1022.9 425,1010.2 524,987.9 623,972.0" fill="none" stroke-width="4" stroke-linejoin="round"/>
<rect x="119" y="1057.941" width="16" height="12.6" fill="none" stroke-width="2.1"/>
<rect x="219" y="1032.4930000000002" width="16" height="12.6" fill="none" stroke-width="2.1"/>
<rect x="318" y="1016.5880000000001" width="16" height="12.6" fill="none" stroke-width="2.1"/>
<rect x="417" y="1003.864" width="16" height="12.6" fill="none" stroke-width="2.1"/>
<rect x="516" y="981.5970000000001" width="16" height="12.6" fill="none" stroke-width="2.1"/>
<rect x="615" y="965.692" width="16" height="12.6" fill="none" stroke-width="2.1"/>
<line x1="127" y1="1056.2885" x2="127" y2="1072.1935" stroke-width="3.2"/>
<line x1="120.5" y1="1056.2885" x2="133.5" y2="1056.2885" stroke-width="2.5"/>
<line x1="120.5" y1="1072.1935" x2="133.5" y2="1072.1935" stroke-width="2.5"/>
<line x1="227" y1="1030.8405" x2="227" y2="1046.7455" stroke-width="3.2"/>
<line x1="220.5" y1="1030.8405" x2="233.5" y2="1030.8405" stroke-width="2.5"/>
<line x1="220.5" y1="1046.7455" x2="233.5" y2="1046.7455" stroke-width="2.5"/>
<line x1="326" y1="1014.9355" x2="326" y2="1030.8405" stroke-width="3.2"/>
<line x1="319.5" y1="1014.9355" x2="332.5" y2="1014.9355" stroke-width="2.5"/>
<line x1="319.5" y1="1030.8405" x2="332.5" y2="1030.8405" stroke-width="2.5"/>
<line x1="425" y1="1002.2115" x2="425" y2="1018.1165" stroke-width="3.2"/>
<line x1="418.5" y1="1002.2115" x2="431.5" y2="1002.2115" stroke-width="2.5"/>
<line x1="418.5" y1="1018.1165" x2="431.5" y2="1018.1165" stroke-width="2.5"/>
<line x1="524" y1="979.9445000000001" x2="524" y2="995.8495" stroke-width="3.2"/>
<line x1="517.5" y1="979.9445000000001" x2="530.5" y2="979.9445000000001" stroke-width="2.5"/>
<line x1="517.5" y1="995.8495" x2="530.5" y2="995.8495" stroke-width="2.5"/>
<line x1="623" y1="964.0395" x2="623" y2="979.9445000000001" stroke-width="3.2"/>
<line x1="616.5" y1="964.0395" x2="629.5" y2="964.0395" stroke-width="2.5"/>
<line x1="616.5" y1="979.9445000000001" x2="629.5" y2="979.9445000000001" stroke-width="2.5"/>
</g>
</svg></body></html>
